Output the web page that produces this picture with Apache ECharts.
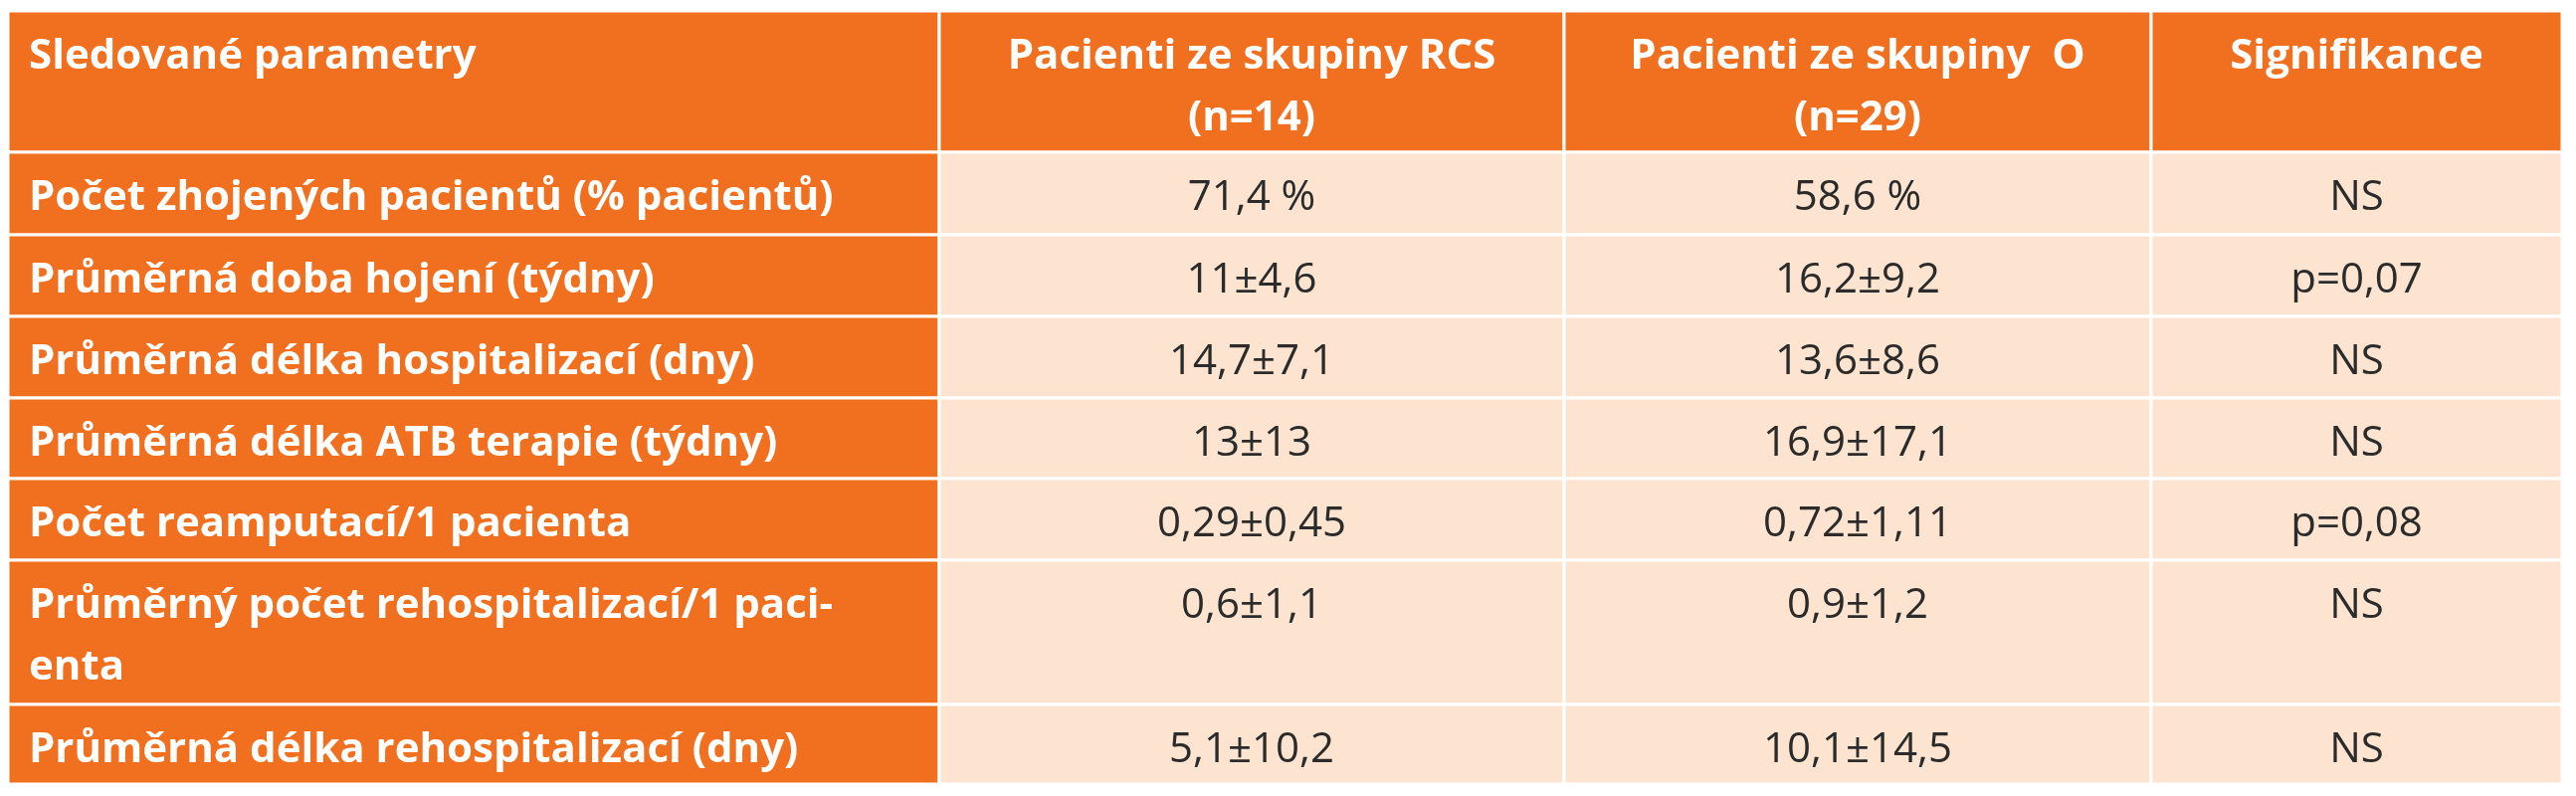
<!DOCTYPE html>
<html><head><meta charset="utf-8">
<script src="https://cdn.jsdelivr.net/npm/echarts@6/dist/echarts.min.js"></script>
<style>html,body{margin:0;padding:0;background:#fff}#c{width:2589px;height:800px}</style>
</head><body><div id="c"></div>
<script>
const headers = ['Sledované parametry', 'Pacienti ze skupiny RCS\n(n=14)', 'Pacienti ze skupiny  O\n(n=29)', 'Signifikance'];
const parameters = [
  'Počet zhojených pacientů (% pacientů)',
  'Průměrná doba hojení (týdny)',
  'Průměrná délka hospitalizací (dny)',
  'Průměrná délka ATB terapie (týdny)',
  'Počet reamputací/1 pacienta',
  'Průměrný počet rehospitalizací/1 paci-\nenta',
  'Průměrná délka rehospitalizací (dny)'
];
const groupRCS = ['71,4 %', '11±4,6', '14,7±7,1', '13±13', '0,29±0,45', '0,6±1,1', '5,1±10,2'];
const groupO = ['58,6 %', '16,2±9,2', '13,6±8,6', '16,9±17,1', '0,72±1,11', '0,9±1,2', '10,1±14,5'];
const significance = ['NS', 'p=0,07', 'NS', 'NS', 'p=0,08', 'NS', 'NS'];

// layout (pixel-like units)
const colWidths = [936, 628, 590, 413];
const rowHeights = [142, 83, 82, 82, 81, 82, 145, 80];

const colEdges = [0]; colWidths.forEach(w => colEdges.push(colEdges[colEdges.length-1] + w));
const rowEdges = [0]; rowHeights.forEach(h => rowEdges.push(rowEdges[rowEdges.length-1] + h));

const cells = [];
headers.forEach((t, c) => cells.push([c, 0, t]));
parameters.forEach((t, r) => {
  cells.push([0, r+1, t]);
  cells.push([1, r+1, groupRCS[r]]);
  cells.push([2, r+1, groupO[r]]);
  cells.push([3, r+1, significance[r]]);
});

const ORANGE = '#F1701F', PEACH = '#FCE4D0';
const chart = echarts.init(document.getElementById('c'));
chart.setOption({
  animation: false,
  grid: {left: 8, right: 14, top: 11, bottom: 12},
  xAxis: {type: 'value', min: 0, max: colEdges[4], show: false},
  yAxis: {type: 'value', min: 0, max: rowEdges[8], inverse: true, show: false},
  series: [{
    type: 'custom',
    data: cells,
    renderItem: function (params, api) {
      const c = api.value(0), r = api.value(1);
      const txt = cells[params.dataIndex][2];
      const p0 = api.coord([colEdges[c], rowEdges[r]]);
      const p1 = api.coord([colEdges[c+1], rowEdges[r+1]]);
      const orange = (r === 0 || c === 0);
      const left = c === 0;
      return {
        type: 'group',
        children: [{
          type: 'rect',
          shape: {x: p0[0], y: p0[1], width: p1[0]-p0[0], height: p1[1]-p0[1]},
          style: {fill: orange ? ORANGE : PEACH, stroke: '#fff', lineWidth: 3}
        }, {
          type: 'text',
          x: left ? p0[0] + 21 : (p0[0]+p1[0])/2,
          y: p0[1] + 15,
          style: {
            text: txt,
            fill: orange ? '#fff' : '#2b2b2b',
            font: (orange ? 'bold ' : '') + '42px "Open Sans", sans-serif',
            align: left ? 'left' : 'center',
            verticalAlign: 'top',
            lineHeight: 62
          }
        }]
      };
    }
  }]
});
</script></body></html>
